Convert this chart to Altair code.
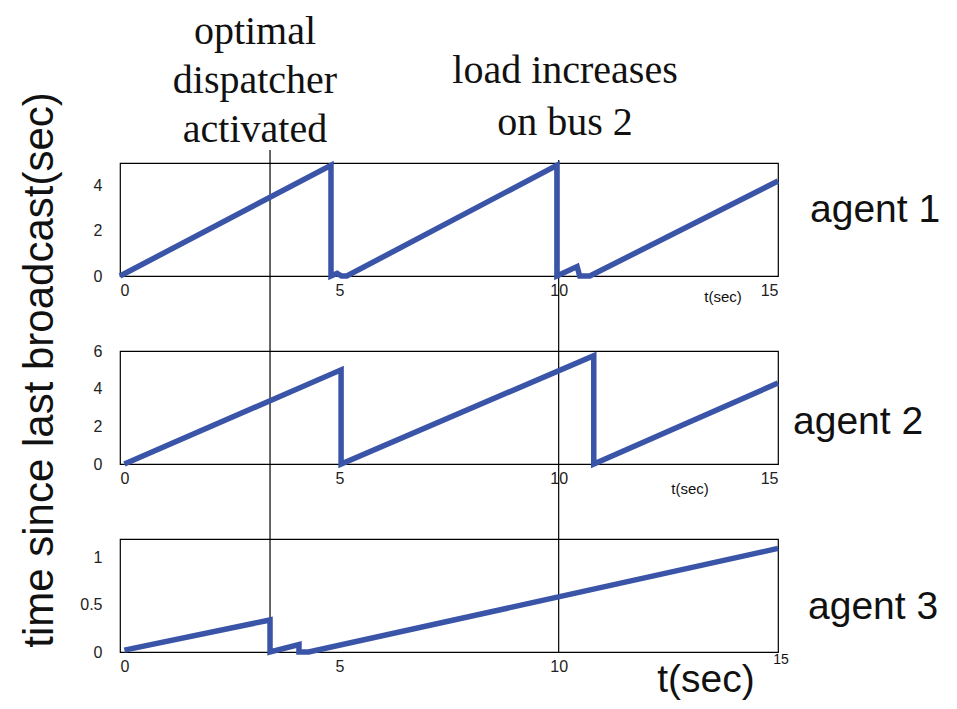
import altair as alt
import pandas as pd

# ---- data ----
t1 = [0, 4.81, 4.81, 4.95, 5.05, 5.17, 9.96, 9.96, 10.42, 10.48, 10.71, 15]
y1 = [0, 4.9, 0, 0.12, 0, 0, 4.9, 0, 0.42, 0, 0, 4.2]
t2 = [0.1, 5.04, 5.04, 10.8, 10.8, 15]
y2 = [0, 5.0, 0, 5.75, 0, 4.3]
t3 = [0.1, 3.42, 3.42, 4.08, 4.08, 4.3, 15]
y3 = [0.02, 0.34, 0, 0.08, 0, 0, 1.1]
event_times = [3.42, 10.0]
x_ticks = [0, 5, 10, 15]
y_ticks1 = [0, 2, 4]
y_ticks2 = [0, 2, 4, 6]
y_ticks3 = [0, 0.5, 1]
agent_labels = ["agent 1", "agent 2", "agent 3"]
annot_dispatch = "optimal\ndispatcher\nactivated"
annot_load = "load increases\non bus 2"
y_title = "time since last broadcast(sec)"
x_title = "t(sec)"

W, H, GAP = 658, 113, 75
BLUE = "#3a54a8"
one = pd.DataFrame({"k": [0]})


def text(label, x, y, size, font="Liberation Sans", align="left", angle=0, lh=None):
    kw = dict(text=label, font=font, fontSize=size, align=align, baseline="middle",
              color="#111111")
    if angle:
        kw["angle"] = angle
    if lh:
        kw["lineBreak"] = "\n"
        kw["lineHeight"] = lh
    return alt.Chart(one).mark_text(**kw).encode(x=alt.value(x), y=alt.value(y))


def panel(t, y, ydom, yticks, xvals, rules, extras):
    df = pd.DataFrame({"t": t, "v": y, "i": list(range(len(t)))})
    xenc = alt.X("t:Q", scale=alt.Scale(domain=[0, 15], nice=False, zero=False),
                 axis=alt.Axis(values=xvals, title=None, labelPadding=6))
    line = alt.Chart(df).mark_line(color=BLUE, strokeWidth=5.5).encode(
        x=xenc,
        y=alt.Y("v:Q", scale=alt.Scale(domain=ydom, nice=False, zero=False),
                axis=alt.Axis(values=yticks, title=None, format="~g", labelPadding=18)),
        order="i:Q",
    )
    layers = []
    for (tv, top, bot) in rules:
        layers.append(
            alt.Chart(pd.DataFrame({"t": [tv]})).mark_rule(color="black", strokeWidth=1.2).encode(
                x="t:Q", y=alt.value(top), y2=alt.value(bot))
        )
    layers.append(line)
    layers.extend(extras)
    return alt.layer(*layers).properties(width=W, height=H)


p1 = panel(
    t1, y1, [0, 5], y_ticks1, x_ticks,
    [(event_times[0], -13, H + GAP), (event_times[1], -3, H + GAP)],
    [
        text(annot_dispatch, 135, -131, 40, font="Liberation Serif", align="center", lh=49),
        text(annot_load, 445, -92, 40, font="Liberation Serif", align="center", lh=52),
        text(agent_labels[0], 690, 47, 39),
        text(x_title, 603, 134, 15, align="center"),
    ],
)
p2 = panel(
    t2, y2, [0, 6], y_ticks2, x_ticks,
    [(event_times[0], 0, H + GAP), (event_times[1], 0, H + GAP)],
    [
        text(agent_labels[1], 673, 71, 39),
        text(x_title, 570, 138, 15, align="center"),
        text(y_title, -80, 19, 42, align="center", angle=270),
    ],
)
p3 = panel(
    t3, y3, [0, 1.2], y_ticks3, x_ticks[:3],
    [(event_times[0], 0, H), (event_times[1], 0, H)],
    [
        text(agent_labels[2], 688, 68, 39),
        text(x_title, 586, 141, 39, align="center"),
        text(str(x_ticks[3]), 661, 121, 14, align="center"),
    ],
)

chart = alt.vconcat(p1, p2, p3, spacing=GAP, bounds="flush").properties(
    autosize=alt.AutoSizeParams(type="none"),
    padding={"left": 112, "top": 155, "right": 170, "bottom": 538},
).configure_view(stroke="black", strokeWidth=1.2).configure_axis(
    grid=False, domain=False, ticks=False,
    labelFont="Liberation Sans", labelFontSize=16, labelColor="#222222",
)

chart.save("out.html", embed_options={"renderer": "svg", "actions": False})
